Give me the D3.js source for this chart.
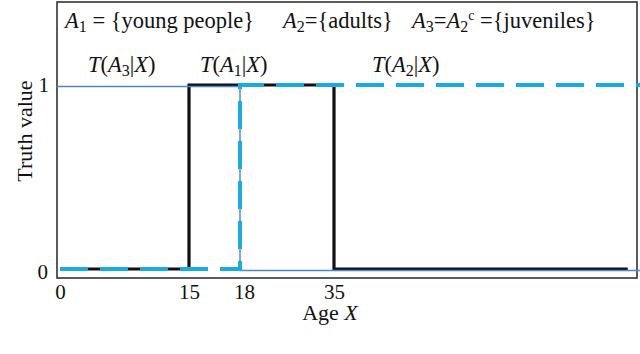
<!DOCTYPE html>
<html lang="en">
<head>
<meta charset="UTF-8">
<script src="https://cdnjs.cloudflare.com/ajax/libs/d3/7.8.5/d3.min.js"></script>
<title>Truth value</title>
<style>
  body { margin: 0; background: #fff; }
  svg { display: block; font-family: "Liberation Serif", "DejaVu Serif", serif; }
</style>
</head>
<body>
<svg id="main_svg" width="640" height="354"></svg>
<script>
    // data
    var ageTicks = [0, 15, 18, 35];
    var truthTicks = [0, 1];
    // T(A3|X) juveniles
    var a3Age = [0, 18, 18, 70];
    var a3Truth = [1, 1, 0, 0];
    // T(A1|X) young people
    var a1Age = [0, 15, 15, 35, 35, 68.6];
    var a1Truth = [0, 0, 1, 1, 0, 0];
    // T(A2|X) adults
    var a2Age = [0, 18, 18, 70];
    var a2Truth = [0, 0, 1, 1];

    var svg = d3.select("#main_svg");

    // schematic (non-uniform) age axis
    var x = d3.scaleLinear().domain([0, 15, 18, 35, 70]).range([60, 189, 240, 334, 640]);
    var y = d3.scaleLinear().domain([0, 1]).range([269, 85]);

    var line = d3.line()
        .x(function (d) { return x(d[0]); })
        .y(function (d) { return y(d[1]); });

    function pts(a, b) { return a.map(function (v, i) { return [v, b[i]]; }); }

    // frame
    svg.append("rect")
        .attr("x", 57).attr("y", 2).attr("width", 580).attr("height", 276)
        .attr("fill", "none").attr("stroke", "#333").attr("stroke-width", 1.6);

    // black line
    svg.append("path")
        .attr("d", line(pts(a1Age, a1Truth)))
        .attr("fill", "none").attr("stroke", "#111").attr("stroke-width", 3.2);

    // thin blue line
    svg.append("path")
        .attr("d", line(pts([-0.4].concat(a3Age.slice(1)), a3Truth)))
        .attr("transform", "translate(0,1.5)")
        .attr("fill", "none").attr("stroke", "#4f85c8").attr("stroke-width", 1.4);

    // cyan dashed
    svg.append("path")
        .attr("d", line(pts(a2Age, a2Truth)))
        .attr("fill", "none").attr("stroke", "#1aaae6").attr("stroke-width", 4)
        .attr("stroke-dasharray", "28,12");

    // axes ticks (labels only)
    var xAxis = d3.axisBottom(x).tickValues(ageTicks).tickSize(0).tickPadding(0)
        .tickFormat(d3.format("d"));
    var gx = svg.append("g").attr("transform", "translate(0,285)").call(xAxis);
    gx.select(".domain").remove();
    gx.selectAll("text").attr("font-family", "Liberation Serif").attr("font-size", 21)
        .attr("fill", "#111").attr("dy", 0).attr("y", 14);
    gx.selectAll(".tick").filter(function (d) { return d === 18; }).select("text").attr("x", 4);

    var yAxis = d3.axisLeft(y).tickValues(truthTicks).tickSize(0).tickPadding(0)
        .tickFormat(d3.format("d"));
    var gy = svg.append("g").attr("transform", "translate(49,0)").call(yAxis);
    gy.select(".domain").remove();
    gy.selectAll("text").attr("font-family", "Liberation Serif").attr("font-size", 21)
        .attr("fill", "#111").attr("dy", "0.32em");
    gy.selectAll(".tick").filter(function (d) { return d === 0; }).select("text").attr("x", -1).attr("dy", "0.45em");

    // axis titles
    svg.append("text")
        .attr("transform", "translate(32,131) rotate(-90)")
        .attr("text-anchor", "middle").attr("font-size", 22).attr("fill", "#111")
        .text("Truth value");

    var ax = svg.append("text").attr("x", 330).attr("y", 320)
        .attr("text-anchor", "middle").attr("font-size", 22).attr("fill", "#111");
    ax.append("tspan").text("Age ");
    ax.append("tspan").attr("font-style", "italic").text("X");

    // rich text helper: parts = [text, style, dy] where style: "i" italic, "s" subscript, "p" superscript
    function rich(xp, yp, parts) {
        var t = svg.append("text").attr("x", xp).attr("y", yp)
            .attr("font-size", 22.5).attr("fill", "#111");
        parts.forEach(function (p) {
            var s = t.append("tspan").text(p[0]);
            if (p[1] && p[1].indexOf("i") >= 0) s.attr("font-style", "italic");
            if (p[1] && p[1].indexOf("s") >= 0) s.attr("font-size", 16).attr("dy", 4);
            if (p[1] && p[1].indexOf("p") >= 0) s.attr("font-size", 14).attr("dy", -8);
            if (p[2] !== undefined) s.attr("dy", p[2]);
        });
        return t;
    }

    rich(65, 28, [["A", "i"], ["1", "s"], [" = {young people}", "", -4]]);
    rich(283, 28, [["A", "i"], ["2", "s"], ["={adults}", "", -4]]);
    rich(412, 28, [["A", "i"], ["3", "s"], ["=", "", -4], ["A", "i"], ["2", "s"], ["c", "p", -12], [" ={juveniles}", "", 8]]);

    rich(88, 72, [["T", "i"], ["(", ""], ["A", "i"], ["3", "s"], ["|", "", -4], ["X", "i"], [")", ""]]);
    rich(200, 72, [["T", "i"], ["(", ""], ["A", "i"], ["1", "s"], ["|", "", -4], ["X", "i"], [")", ""]]);
    rich(372, 72, [["T", "i"], ["(", ""], ["A", "i"], ["2", "s"], ["|", "", -4], ["X", "i"], [")", ""]]);

    // caption (cut off at bottom)
    var cap = svg.append("text").attr("x", -2).attr("y", 369).attr("font-size", 22).attr("fill", "#111");
    cap.append("tspan").attr("font-weight", "bold").text("2. ");
    cap.append("tspan").text("The set of frequencies of ");
    cap.append("tspan").attr("font-style", "italic").text("X");
    cap.append("tspan").text(" indicating the respective regions of young and");
</script>
</body>
</html>
